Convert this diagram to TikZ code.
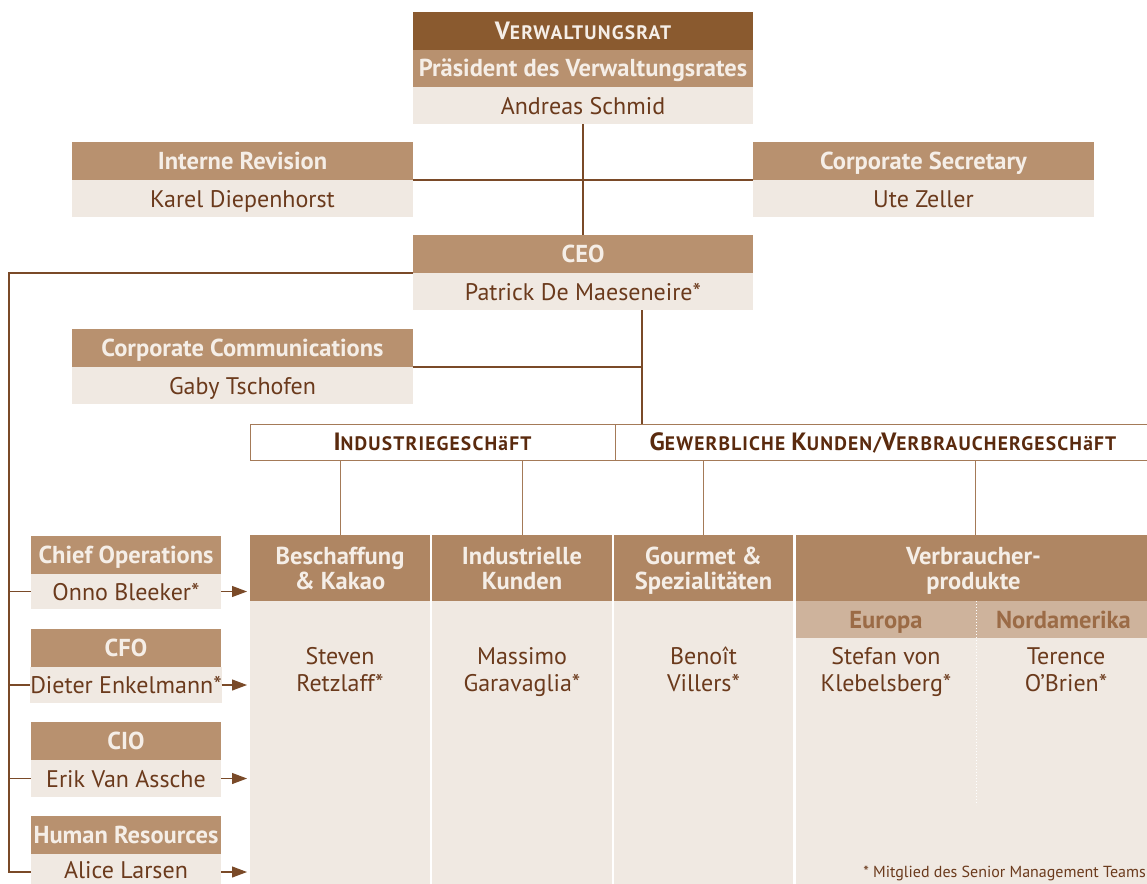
\documentclass[tikz,border=0pt]{standalone}
\usepackage{fontspec}
\setmainfont{PT Sans}
\newfontfamily\scfont{PT Sans}[LetterSpace=6]
\usetikzlibrary{arrows.meta}
\definecolor{dk}{HTML}{8A5A2F}
\definecolor{md}{HTML}{B8916F}
\definecolor{cm}{HTML}{AF8663}
\definecolor{sb}{HTML}{CEB39C}
\definecolor{lt}{HTML}{F0E9E2}
\definecolor{wt}{HTML}{F5EEE7}
\definecolor{nm}{HTML}{6B3A1C}
\definecolor{ln}{HTML}{7A4A28}
\definecolor{bl}{HTML}{A47A58}
\definecolor{bt}{HTML}{5A2A0E}
\definecolor{eu}{HTML}{9B6B46}
\newcommand\hdfont{\fontsize{24.5}{25}\selectfont\bfseries}
\newcommand\nmfont{\fontsize{24}{27}\selectfont}
\newcommand\fsc[2]{{\fontsize{25}{26}\selectfont #1}{\fontsize{19.5}{26}\selectfont #2}}
\newcommand\sma[1]{{\fontsize{19.5}{26}\selectfont #1}}
\tikzset{
  box/.style={inner sep=0pt, outer sep=0pt, align=center},
  one/.style={text height=17pt, text depth=0pt},
  hdr/.style={box, one, fill=md, text=wt, font=\hdfont},
  dkh/.style={box, one, fill=dk, text=wt, font=\scfont\bfseries},
  nmb/.style={box, one, fill=lt, text=nm, font=\nmfont},
  colh/.style={box, text height=42pt, text depth=0pt, fill=cm, text=wt, font=\hdfont},
  colb/.style={box, fill=lt},
  subh/.style={box, one, fill=sb, text=eu, font=\hdfont},
  barb/.style={box, one, draw=bl, line width=0.9pt, fill=white, text=bt, font=\scfont\bfseries},
  conn/.style={draw=ln, line width=1.1pt},
  thin/.style={draw=bl, line width=0.8pt},
  arr/.style={conn, -{Triangle[length=15pt,width=11pt]}},
  nmtext/.style={inner sep=0pt, text height=44pt, text depth=0pt, text=nm, font=\nmfont, align=center}
}
\begin{document}
\begin{tikzpicture}[x=1pt,y=-1pt]
\useasboundingbox (0,0) rectangle (1147,883);
\clip (0,0) rectangle (1147,883);
% top
\node[dkh, minimum width=340pt, minimum height=38pt] (vr1) at (583,31) {\fsc{V}{ERWALTUNGSRAT}};
\node[hdr, minimum width=340pt, minimum height=37pt] (vr2) at (583,68.5) {Präsident des Verwaltungsrates};
\node[nmb, minimum width=340pt, minimum height=37pt] (vr3) at (583,105.5) {Andreas Schmid};
% staff
\node[hdr, minimum width=341pt, minimum height=38pt] (ir1) at (242.5,161) {Interne Revision};
\node[nmb, minimum width=341pt, minimum height=37pt] (ir2) at (242.5,198.5) {Karel Diepenhorst};
\node[hdr, minimum width=341pt, minimum height=38pt] (cs1) at (923.5,161) {Corporate Secretary};
\node[nmb, minimum width=341pt, minimum height=37pt] (cs2) at (923.5,198.5) {Ute Zeller};
% CEO
\node[hdr, minimum width=340pt, minimum height=38pt] (ceo1) at (583,254) {CEO};
\node[nmb, minimum width=340pt, minimum height=37pt] (ceo2) at (583,291.5) {Patrick De Maeseneire*};
\node[hdr, minimum width=341pt, minimum height=38pt] (cc1) at (242.5,348) {Corporate Communications};
\node[nmb, minimum width=341pt, minimum height=37pt] (cc2) at (242.5,385.5) {Gaby Tschofen};
% bar
\node[barb, minimum width=365pt, minimum height=36pt] (barL) at (432.5,442) {\fsc{I}{NDUSTRIEGESCH}\sma{äFT}};
\node[barb, minimum width=536pt, minimum height=36pt] (barR) at (883,442) {\fsc{G}{EWERBLICHE }\fsc{K}{UNDEN/}\fsc{V}{ERBRAUCHERGESCH}\sma{äFT}};
% columns
\node[colb, minimum width=180pt, minimum height=290pt] (c1b) at (340,746) {};
\node[colb, minimum width=180pt, minimum height=290pt] (c2b) at (522,746) {};
\node[colb, minimum width=179pt, minimum height=290pt] (c3b) at (703.5,746) {};
\node[colb, minimum width=355pt, minimum height=290pt] (c4b) at (973.5,746) {};
\node[colh, minimum width=180pt, minimum height=66pt] (c1h) at (340,568) {Beschaffung\\\& Kakao};
\node[colh, minimum width=180pt, minimum height=66pt] (c2h) at (522,568) {Industrielle\\Kunden};
\node[colh, minimum width=179pt, minimum height=66pt] (c3h) at (703.5,568) {Gourmet \&\\Spezialitäten};
\node[colh, minimum width=355pt, minimum height=66pt] (c4h) at (973.5,568) {Verbraucher-\\produkte};
\node[subh, minimum width=180pt, minimum height=37pt] (eu) at (886,619.5) {Europa};
\node[subh, minimum width=175pt, minimum height=37pt] (na) at (1063.5,619.5) {Nordamerika};
\draw[white, line width=1pt, dotted] (eu.north east) -- (976,805);
% names in columns
\node[nmtext] (n1) at (340,669) {Steven\\Retzlaff*};
\node[nmtext] (n2) at (522,669) {Massimo\\Garavaglia*};
\node[nmtext] (n3) at (703.5,669) {Benoît\\Villers*};
\node[nmtext] (n4) at (886,669) {Stefan von\\Klebelsberg*};
\node[nmtext] (n5) at (1066,669) {Terence\\O’Brien*};
% left boxes
\node[hdr, minimum width=190pt, minimum height=38pt] (co1) at (126,555) {Chief Operations};
\node[nmb, minimum width=190pt, minimum height=35pt] (co2) at (126,591.5) {Onno Bleeker*};
\node[hdr, minimum width=190pt, minimum height=38pt] (cfo1) at (126,648) {CFO};
\node[nmb, minimum width=190pt, minimum height=36pt] (cfo2) at (126,685) {Dieter Enkelmann*};
\node[hdr, minimum width=190pt, minimum height=38pt] (cio1) at (126,741) {CIO};
\node[nmb, minimum width=190pt, minimum height=37pt] (cio2) at (126,778.5) {Erik Van Assche};
\node[hdr, minimum width=190pt, minimum height=38pt] (hr1) at (126,835) {Human Resources};
\node[nmb, minimum width=190pt, minimum height=32pt] (hr2) at (126,870) {Alice Larsen};
% footnote
\node[inner sep=0pt, anchor=east, text=nm, font=\fontsize{16}{18}\selectfont] (fn) at (1146,873) {* Mitglied des Senior Management Teams};
% connectors
\coordinate (sp) at (9,273);
\coordinate (j) at (642,310);
\draw[conn] (vr3.south) -- (ceo1.north);
\draw[conn] (ir2.north east) -- (cs2.north west);
\draw[conn] (ceo2.north west) -- (sp) -- (sp |- 0,872) -- (hr2.west |- 0,872);
\draw[conn] (sp |- co2.west) -- (co2.west);
\draw[conn] (sp |- cfo2.west) -- (cfo2.west);
\draw[conn] (sp |- cio2.west) -- (cio2.west);
\draw[conn] (ceo2.south -| j) -- (barR.north -| j);
\draw[conn] (cc2.north east) -- (cc2.north east -| j);
\draw[thin] (barL.south -| c1h.north) -- (c1h.north);
\draw[thin] (barL.south -| c2h.north) -- (c2h.north);
\draw[thin] (barR.south -| c3h.north) -- (c3h.north);
\draw[thin] (barR.south -| 975,0) -- (975,535);
\draw[arr, shorten >=3pt] (co2.east) -- (co2.east -| c1b.west);
\draw[arr, shorten >=3pt] (cfo2.east) -- (cfo2.east -| c1b.west);
\draw[arr, shorten >=3pt] (cio2.east) -- (cio2.east -| c1b.west);
\draw[arr, shorten >=3pt] (hr2.east |- 0,872) -- (c1b.west |- 0,872);
\end{tikzpicture}
\end{document}
